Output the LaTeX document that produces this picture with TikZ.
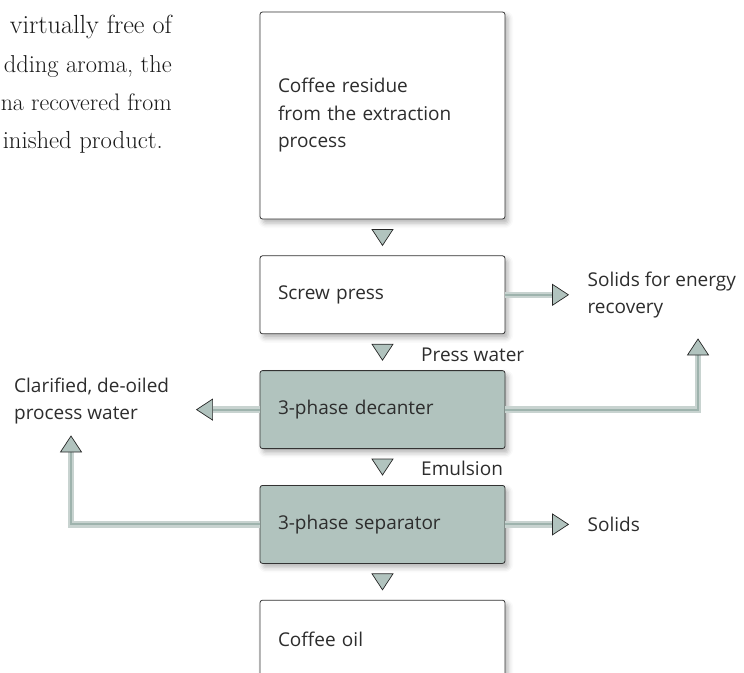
\documentclass[tikz,border=0pt]{standalone}
\usepackage{graphicx}
\usepackage{fontspec}
\newfontfamily\boxsans{Open Sans}
\usetikzlibrary{positioning,shadows.blur}
\definecolor{unitcolor}{RGB}{177,195,190}
\definecolor{pipecolor}{RGB}{200,211,208}
\definecolor{pipecore}{RGB}{158,179,173}
\definecolor{textgray}{RGB}{45,45,45}
\newcommand\boxfont{\boxsans\fontsize{19}{27.5}\selectfont}
\newcommand\prosefont{\fontsize{24}{38}\selectfont}
% one line of the cut-off text column, set to a given width
\newcommand\proseline[2]{\resizebox{#1}{!}{#2}}

% Helper macro for a flow triangle (#1=base point, #2=direction)
\newcommand\flowhead[2]{%
  \draw[flowtip,shift={(#1)},rotate=#2] (0,-10.5) -- (16,0) -- (0,10.5) -- cycle;
}

\begin{document}
\begin{tikzpicture}[
  x=1pt,y=-1pt,
  node distance=36pt,
  box/.style={draw=black!80,line width=0.8pt,rounded corners=2.5pt,fill=white,
    minimum width=245pt,minimum height=78pt,text width=209pt,inner xsep=18pt,
    align=left,font=\boxfont,text=textgray,
    blur shadow={shadow xshift=3pt,shadow yshift=-4pt,shadow blur radius=5pt,shadow opacity=30}},
  unit/.style={box,fill=unitcolor},
  lbl/.style={font=\boxfont,text=textgray,align=left,inner sep=0pt},
  prose/.style={font=\prosefont,text=black!90,inner sep=0pt,anchor=base east},
  pipe/.style={line width=6.5pt,draw=pipecolor,line join=miter,postaction={draw=pipecore,line width=2pt}},
  flowtip/.style={draw=black!85,line width=0.7pt,fill=unitcolor,line join=miter},
]
\useasboundingbox (0,0) rectangle (744,672);

% --- TEXT COLUMN ON THE LEFT ---
\node[prose] (prose1) at (172,33) {\proseline{162pt}{virtually free of}};
\node[prose] (prose2) at (172,72) {\proseline{168pt}{dding aroma, the}};
\node[prose] (prose3) at (172,110) {\proseline{171pt}{na recovered from}};
\node[prose] (prose4) at (163,148) {\proseline{160pt}{inished product.}};

% --- PROCESS CHAIN ---
\node[box,minimum height=207pt] (residue) at (382.5,115.5)
  {Coffee residue\\from the extraction\\process};
\node[box,below=of residue] (press) {Screw press};
\node[unit,below=of press] (decanter) {3-phase decanter};
\node[unit,below=of decanter] (separator) {3-phase separator};
\node[box,below=of separator] (oil) {Coffee oil};

% Down triangles between the units
\foreach \a in {residue,press,decanter,separator} {
  \coordinate (\a down) at ([yshift=-10pt]\a.south);
  \flowhead{\a down}{-90}
}
\node[lbl,anchor=west] (presswater) at (421,355) {Press water};
\node[lbl,anchor=west] (emulsion) at (421,468) {Emulsion};

% --- SIDE STREAMS ---
\coordinate[right=47pt of press.east] (pressout);
\draw[pipe] (press.east) -- (pressout);
\flowhead{pressout}{0}
\node[lbl,anchor=west,right=35pt of pressout] (energy) {Solids for energy\\recovery};

\coordinate (decanterup) at (698,355);
\draw[pipe] (decanter.east) -| (decanterup);
\flowhead{decanterup}{90}

\coordinate[left=47pt of decanter.west] (decanterout);
\draw[pipe] (decanter.west) -- (decanterout);
\flowhead{decanterout}{180}
\node[lbl,anchor=west] (water) at (14,401) {Clarified, de-oiled\\process water};

\coordinate (separatorup) at (71,452);
\draw[pipe] (separator.west) -| (separatorup);
\flowhead{separatorup}{90}

\coordinate[right=47pt of separator.east] (separatorout);
\draw[pipe] (separator.east) -- (separatorout);
\flowhead{separatorout}{0}
\node[lbl,anchor=west,right=35pt of separatorout] (solids) {Solids};

\end{tikzpicture}
\end{document}
